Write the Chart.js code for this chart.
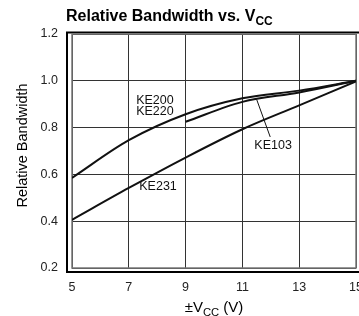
<!DOCTYPE html>
<html lang="en">
  <head>
    <meta charset="UTF-8" />
    <title>Relative Bandwidth vs. VCC</title>
    <script src="https://cdn.jsdelivr.net/npm/chart.js"></script>
    <style>
      * {
        margin: 0;
        padding: 0;
        box-sizing: border-box;
      }

      body {
        width: 359px;
        height: 316px;
        overflow: hidden;
        background: #fff;
      }

      .wrap {
        width: 380px;
        height: 316px;
      }
    </style>
  </head>
  <body>
    <div class="wrap">
      <canvas id="chart"></canvas>
    </div>

    <script>
      // values
      const vcc = [5, 7, 9, 11, 13, 15];
      const ke200 = [0.585, 0.746, 0.857, 0.925, 0.958, 1.0];
      const ke103X = [9, 11, 13, 15];
      const ke103 = [0.825, 0.91, 0.95, 1.0];
      const ke231 = [0.406, 0.542, 0.672, 0.793, 0.895, 0.997];
      const xTicks = [5, 7, 9, 11, 13, 15];
      const yTicks = [0.2, 0.4, 0.6, 0.8, 1.0, 1.2];

      // curve labels, in data units
      const curveLabels = [
        { text: "KE200", x: 7.92, y: 0.915 },
        { text: "KE220", x: 7.92, y: 0.867 },
        { text: "KE231", x: 8.03, y: 0.547 },
        { text: "KE103", x: 12.08, y: 0.723 },
      ];
      const leader = { x1: 11.5, y1: 0.921, x2: 11.98, y2: 0.76 };

      const pts = (xs, ys) => xs.map((x, i) => ({ x: x, y: ys[i] }));

      const lineStyle = {
        borderColor: "#111",
        borderWidth: 2,
        pointRadius: 0,
        fill: false,
        cubicInterpolationMode: "monotone",
      };

      const FAM = "'Liberation Sans', Arial, sans-serif";

      function drawSub(ctx, base, sub, after, x, y, size, bold, align) {
        const w = bold ? "bold " : "";
        const big = w + size + "px " + FAM;
        const small = w + size * 0.75 + "px " + FAM;
        ctx.font = big;
        const bw = ctx.measureText(base).width;
        const tw = ctx.measureText(after).width;
        ctx.font = small;
        const sw = ctx.measureText(sub).width;
        let x0 = x;
        if (align === "center") x0 = x - (bw + sw + tw) / 2;
        ctx.textAlign = "left";
        ctx.textBaseline = "alphabetic";
        ctx.font = big;
        ctx.fillText(base, x0, y);
        ctx.fillText(after, x0 + bw + sw, y);
        ctx.font = small;
        ctx.fillText(sub, x0 + bw, y + size * 0.25);
      }

      const decor = {
        id: "decor",
        beforeDatasetsDraw(chart) {
          const { ctx, chartArea: a } = chart;
          ctx.save();
          // outer heavy frame
          ctx.strokeStyle = "#000";
          ctx.lineWidth = 2;
          ctx.beginPath();
          ctx.moveTo(400, a.top - 1.5);
          ctx.lineTo(a.left - 5, a.top - 1.5);
          ctx.lineTo(a.left - 5, a.bottom + 4);
          ctx.lineTo(400, a.bottom + 4);
          ctx.stroke();
          // inner frame
          ctx.strokeStyle = "#777";
          ctx.lineWidth = 1.5;
          ctx.strokeRect(a.left, a.top, a.right - a.left, a.bottom - a.top);
          ctx.restore();
        },
        afterDatasetsDraw(chart) {
          const { ctx } = chart;
          const xs = chart.scales.x;
          const ys = chart.scales.y;
          ctx.save();
          ctx.fillStyle = "#111";
          ctx.font = "12.5px " + FAM;
          ctx.textAlign = "center";
          ctx.textBaseline = "middle";
          curveLabels.forEach((l) => {
            ctx.fillText(l.text, xs.getPixelForValue(l.x), ys.getPixelForValue(l.y));
          });
          ctx.strokeStyle = "#111";
          ctx.lineWidth = 1;
          ctx.beginPath();
          ctx.moveTo(xs.getPixelForValue(leader.x1), ys.getPixelForValue(leader.y1));
          ctx.lineTo(xs.getPixelForValue(leader.x2), ys.getPixelForValue(leader.y2));
          ctx.stroke();

          // titles
          ctx.fillStyle = "#000";
          drawSub(ctx, "Relative Bandwidth vs. V", "CC", "", 66, 21, 16, true, "left");
          drawSub(ctx, "\u00b1V", "CC", " (V)", 214, 312, 15, false, "center");
          ctx.save();
          ctx.translate(26.5, 145.5);
          ctx.rotate(-Math.PI / 2);
          ctx.font = "14.5px " + FAM;
          ctx.textAlign = "center";
          ctx.textBaseline = "alphabetic";
          ctx.fillText("Relative Bandwidth", 0, 0);
          ctx.restore();
          ctx.restore();
        },
      };

      new Chart(document.getElementById("chart"), {
        type: "line",
        data: {
          datasets: [
            Object.assign({ label: "KE200/KE220", data: pts(vcc, ke200) }, lineStyle),
            Object.assign({ label: "KE103", data: pts(ke103X, ke103) }, lineStyle),
            Object.assign({ label: "KE231", data: pts(vcc, ke231) }, lineStyle),
          ],
        },
        options: {
          responsive: true,
          maintainAspectRatio: false,
          animation: false,
          layout: { padding: { top: 34, right: 24, left: 0, bottom: 0 } },
          plugins: {
            legend: { display: false },
            tooltip: { enabled: false },
          },
          scales: {
            x: {
              type: "linear",
              min: 5,
              max: 15,
              afterFit(s) {
                s.height = 48;
              },
              afterBuildTicks(s) {
                s.ticks = xTicks.map((v) => ({ value: v }));
              },
              grid: { color: "#333", lineWidth: 1, drawTicks: false },
              border: { display: false },
              ticks: {
                color: "#222",
                padding: 12,
                font: { size: 12.5, family: FAM },
              },
            },
            y: {
              min: 0.2,
              max: 1.2,
              afterFit(s) {
                s.width = 72;
              },
              afterBuildTicks(s) {
                s.ticks = yTicks.map((v) => ({ value: v }));
              },
              grid: { color: "#333", lineWidth: 1, drawTicks: false },
              border: { display: false },
              ticks: {
                color: "#222",
                padding: 14,
                font: { size: 12.5, family: FAM },
                callback: (v) => v.toFixed(1),
              },
            },
          },
        },
        plugins: [decor],
      });
    </script>
  </body>
</html>
